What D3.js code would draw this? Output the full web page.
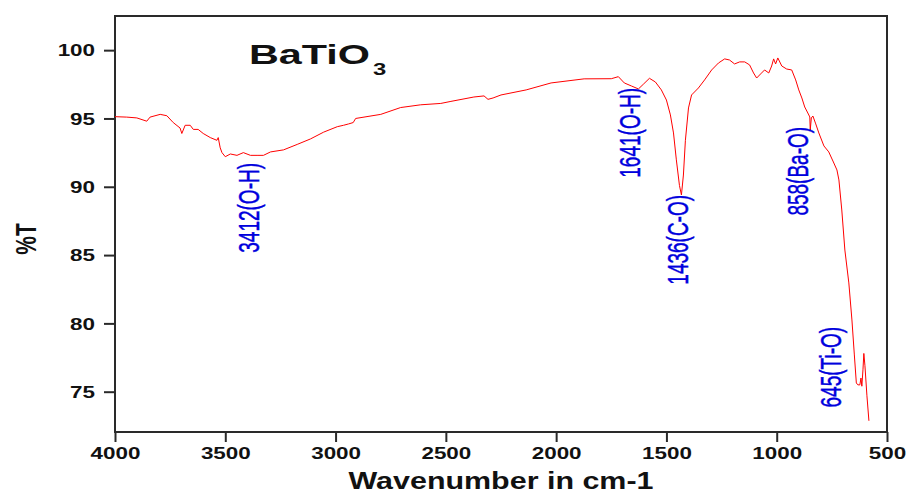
<!DOCTYPE html>
<html>
<head>
<meta charset="utf-8">
<script src="https://cdn.jsdelivr.net/npm/d3@7"></script>
<style>
  html, body { margin: 0; padding: 0; background: #fff; }
  svg { display: block; font-family: "Liberation Sans", Arial, sans-serif; }
</style>
</head>
<body>
<svg id="chart" width="906" height="494"></svg>
<script>
// FTIR spectrum of BaTiO3
const wavenumber = [
  4000, 3947, 3901, 3856, 3841, 3795, 3765, 3736, 3705, 3697, 3682, 3659, 3645, 3623, 3600,
  3568, 3538, 3532, 3523, 3515, 3500, 3477, 3447, 3418, 3386, 3356, 3327, 3295, 3236, 3174,
  3114, 3054, 2992, 2964, 2941, 2920, 2909, 2795, 2705, 2614, 2523, 2477, 2373, 2327, 2309,
  2286, 2250, 2136, 2023, 1873, 1750, 1718, 1691, 1659, 1627, 1605, 1577, 1550, 1523, 1500,
  1482, 1468, 1455, 1441, 1432, 1423, 1414, 1400, 1386, 1355, 1327, 1295, 1264, 1236, 1214,
  1191, 1168, 1145, 1123, 1105, 1091, 1073, 1055, 1036, 1023, 1014, 1005, 995, 977, 955,
  932, 914, 900, 886, 873, 859, 850, 848, 843, 836, 823, 809, 786, 764, 741,
  727, 718, 705, 691, 673, 659, 648, 639, 632, 623, 618, 614, 609, 605, 600,
  591, 582
];
const transmittance = [
  95.13, 95.1, 95.04, 94.8, 95.1, 95.3, 95.2, 94.7, 94.3, 93.9, 94.5, 94.5, 94.2, 94.2, 93.9,
  93.6, 93.4, 93.6, 92.85, 92.5, 92.2, 92.4, 92.3, 92.5, 92.3, 92.3, 92.3, 92.55, 92.7, 93.1,
  93.5, 94.0, 94.4, 94.5, 94.6, 94.7, 95.0, 95.3, 95.8, 96.0, 96.1, 96.25, 96.57, 96.65, 96.4,
  96.5, 96.72, 97.09, 97.6, 97.9, 97.91, 98.06, 97.6, 97.38, 97.16, 97.5, 97.94, 97.67, 97.09, 96.35,
  95.26, 93.94, 91.97, 90.1, 89.4, 90.86, 93.4, 95.77, 96.72, 97.23, 97.82, 98.55, 99.06, 99.36, 99.28,
  98.99, 99.14, 99.14, 98.92, 98.33, 97.96, 98.26, 98.55, 98.33, 98.84, 99.36, 98.99, 99.43, 98.84, 98.62,
  98.55, 97.82, 97.09, 96.5, 95.84, 95.4, 95.11, 94.16, 95.04, 95.18, 94.6, 93.94, 92.99, 92.55, 91.74,
  91.23, 90.5, 88.3, 85.37, 82.96, 80.25, 77.69, 75.64, 75.5, 75.5, 76.0, 75.4, 76.6, 77.8, 76.9,
  74.7, 72.87
];

const xTicks = [4000, 3500, 3000, 2500, 2000, 1500, 1000, 500];
const yTicks = [75, 80, 85, 90, 95, 100];

// peak annotations: text, centre wavenumber, %T at the top end of the text
const peakLabels = ['3412(O-H)', '1641(O-H)', '1436(C-O)', '858(Ba-O)', '645(Ti-O)'];
const peakWave = [3395, 1665, 1450, 905, 755];
const peakTop = [91.74, 97.23, 89.4, 94.38, 79.74];

const STRETCH = 1.4; // the original picture is widened horizontally

const svg = d3.select('#chart');
const plot = { left: 115, right: 887, top: 16, bottom: 432 };

const x = d3.scaleLinear().domain([4000, 500]).range([plot.left, plot.right]);
const y = d3.scaleLinear().domain([72.05, 102.5]).range([plot.bottom, plot.top]);

// widen horizontal text to match the stretched look
function widen(sel, k) {
  sel.each(function () {
    const w = this.getComputedTextLength();
    d3.select(this).attr('textLength', w * k).attr('lengthAdjust', 'spacingAndGlyphs');
  });
}

// frame
svg.append('rect')
  .attr('x', plot.left).attr('y', plot.top)
  .attr('width', plot.right - plot.left).attr('height', plot.bottom - plot.top)
  .attr('fill', 'none').attr('stroke', '#2a2a2a').attr('stroke-width', 2);

// x axis
const gx = svg.append('g')
  .attr('transform', `translate(0,${plot.bottom})`)
  .call(d3.axisBottom(x).tickValues(xTicks).tickSize(10).tickSizeOuter(0).tickFormat(d3.format('d')));
gx.select('.domain').remove();
gx.selectAll('line').attr('stroke', '#2a2a2a').attr('stroke-width', 2);
gx.selectAll('text')
  .attr('y', 27).attr('dy', 0)
  .attr('fill', '#111')
  .style('font-size', '16px').style('font-weight', 'bold')
  .call(widen, STRETCH);

// y axis
const gy = svg.append('g')
  .attr('transform', `translate(${plot.left},0)`)
  .call(d3.axisLeft(y).tickValues(yTicks).tickSize(11).tickSizeOuter(0).tickFormat(d3.format('d')));
gy.select('.domain').remove();
gy.selectAll('line').attr('stroke', '#2a2a2a').attr('stroke-width', 2);
gy.selectAll('text')
  .attr('x', -20).attr('dy', '0.36em')
  .attr('fill', '#111')
  .style('font-size', '16px').style('font-weight', 'bold')
  .call(widen, STRETCH);

// spectrum
const pts = wavenumber.map((w, i) => [w, transmittance[i]]);
svg.append('path')
  .datum(pts)
  .attr('fill', 'none')
  .attr('stroke', '#ff0000')
  .attr('stroke-width', 1)
  .attr('stroke-linejoin', 'round')
  .attr('d', d3.line().x(d => x(d[0])).y(d => y(d[1])));

// peak labels, vertical
svg.append('g').selectAll('text')
  .data(peakLabels)
  .join('text')
  .attr('transform', (d, i) => `translate(${x(peakWave[i])},${y(peakTop[i])}) scale(1.55,1) rotate(-90)`)
  .attr('text-anchor', 'end')
  .attr('dominant-baseline', 'central')
  .attr('fill', '#0000dd')
  .attr('stroke', '#0000dd')
  .attr('stroke-width', 0.3)
  .style('font-size', '19px')
  .text(d => d);

// title
svg.append('text')
  .attr('x', 249).attr('y', 64)
  .attr('fill', '#111')
  .style('font-size', '28px').style('font-weight', 'bold')
  .attr('textLength', 121).attr('lengthAdjust', 'spacingAndGlyphs')
  .text('BaTiO');
svg.append('text')
  .attr('x', 373).attr('y', 75)
  .attr('fill', '#111')
  .style('font-size', '17px').style('font-weight', 'bold')
  .text('3')
  .call(widen, STRETCH);

// axis titles
svg.append('text')
  .attr('x', (plot.left + plot.right) / 2).attr('y', 489)
  .attr('text-anchor', 'middle')
  .attr('fill', '#111')
  .style('font-size', '23px').style('font-weight', 'bold')
  .attr('textLength', 305).attr('lengthAdjust', 'spacingAndGlyphs')
  .text('Wavenumber in cm-1');

svg.append('text')
  .attr('transform', `translate(26,239) scale(${STRETCH},1) rotate(-90)`)
  .attr('text-anchor', 'middle')
  .attr('dominant-baseline', 'central')
  .attr('fill', '#111')
  .style('font-size', '21px').style('font-weight', 'bold')
  .text('%T');
</script>
</body>
</html>
